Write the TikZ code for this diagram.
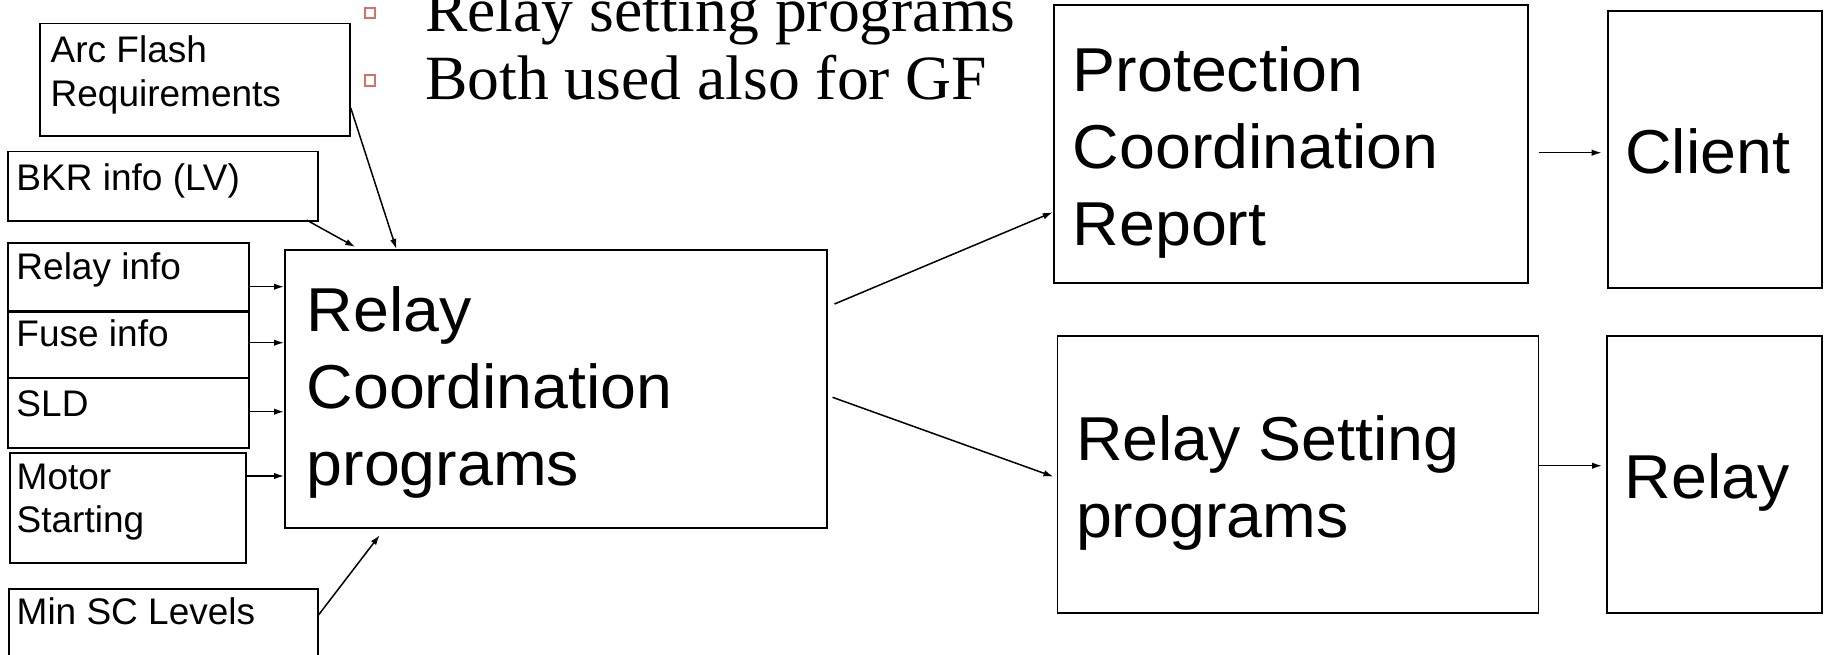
\documentclass[tikz,border=0pt]{standalone}
\usepackage{fontspec}
\setmainfont{Liberation Sans}
\newfontfamily\bigsans[FakeStretch=1.04]{Liberation Sans}
\newfontfamily\bulletserif[FakeStretch=1.01]{Liberation Serif}
\usetikzlibrary{arrows.meta,calc}
\definecolor{bulletred}{RGB}{214,112,104}
% #1 font size, #2 baseline skip, #3 width, #4 height, #5 left pad, #6 first baseline, #7 text
\newcommand\boxtxt[7]{\parbox[c][#4pt][t]{#3pt}{\fontsize{#1}{#2}\selectfont\raggedright\leftskip=#5pt\relax\rule{0pt}{#6pt}#7\par}}
\begin{document}
\begin{tikzpicture}[x=1pt,y=-1pt,
  boxn/.style={draw, line width=1.8pt, inner sep=0pt, anchor=north west},
  arr/.style={line width=1.5pt, -{Latex[length=10pt,width=6.5pt]}},
  bulletsq/.style={draw=bulletred, line width=1.8pt, minimum size=10.5pt, inner sep=0pt},
  serifline/.style={anchor=base west, inner sep=0pt, font={\bulletserif\fontsize{63}{67}\selectfont}}]
\clip (0,0) rectangle (1825,655);

% bullet text
\node[bulletsq] (b1) at (370,13) {};
\node[bulletsq] (b2) at (370,80.5) {};
\node[serifline] (t1) at (425,32) {Relay setting programs};
\node[serifline] (t2) at (425,99.3) {Both used also for GF};

% input boxes
\node[boxn] (arc) at (39.3,22.7) {\boxtxt{37}{43.5}{309.7}{112.3}{10.5}{39}{Arc Flash\\Requirements}};
\node[boxn] (bkr) at (7.3,150.7) {\boxtxt{37}{43.5}{309.4}{69.3}{8.3}{39.3}{BKR info (LV)}};
\node[boxn] (ri) at (7.3,241.7) {\boxtxt{37}{43.5}{240.4}{68.3}{8.3}{36.6}{Relay info}};
\node[boxn] (fuse) at (7.3,310.7) {\boxtxt{37}{43.5}{240.4}{66.6}{8.3}{35.3}{Fuse info}};
\node[boxn] (sld) at (7.3,377.3) {\boxtxt{37}{43.5}{240.4}{69.4}{8.3}{38.7}{SLD}};
\node[boxn] (motor) at (9.3,452.3) {\boxtxt{37}{43.4}{235.7}{109.4}{6.5}{36}{Motor\\Starting}};
\node[boxn] (minsc) at (8.3,588.3) {\boxtxt{37}{43.5}{308.4}{100}{7.5}{35}{Min SC Levels}};

% main boxes
\node[boxn] (rc) at (284,249) {\boxtxt{62}{77}{542}{277.7}{21.8}{82}{\bigsans Relay\\Coordination\\programs}};
\node[boxn] (pcr) at (1052.7,4) {\boxtxt{62}{77}{474.6}{277.7}{19.2}{86.7}{\bigsans Protection\\Coordination\\Report}};
\node[boxn] (client) at (1607.3,10.5) {\boxtxt{62}{77}{213.4}{276.2}{17}{162}{\bigsans Client}};
\node[boxn] (rsp) at (1056.5,335) {\boxtxt{62}{77}{481}{277.3}{18.6}{125}{\bigsans Relay Setting\\programs}};
\node[boxn] (relay) at (1606,335) {\boxtxt{62}{77}{215}{277}{18}{163}{\bigsans Relay}};

% connectors
\draw[arr] ($(arc.north east)!0.748!(arc.south east)$) -- ($(rc.north west)!0.2066!(rc.north east)$);
\draw[arr] ($(bkr.south west)!0.962!(bkr.south east)+(0,-1.7)$) -- ($(rc.north west)!0.131!(rc.north east)+(0,-2)$);
\draw[arr] (ri.east |- 0,286.7) -- (rc.west |- 0,286.7);
\draw[arr] (fuse.east |- 0,342.7) -- (rc.west |- 0,342.7);
\draw[arr] (sld.east |- 0,411.7) -- (rc.west |- 0,411.7);
\draw[arr] (motor.east |- 0,476) -- (rc.west |- 0,476);
\draw[arr] (minsc.north east |- 0,615) -- ($(rc.south west)!0.176!(rc.south east)+(0,6.6)$);
\draw[arr] ($(rc.east |- 0,304)+(6.7,0)$) -- (pcr.west |- 0,212.3);
\draw[arr] ($(rc.east |- 0,397.3)+(4.7,0)$) -- ($(rsp.west |- 0,476.7)+(-3,0)$);
\draw[arr] ($(pcr.east |- 0,152.7)+(9.4,0)$) -- ($(client.west |- 0,152.7)+(-5.6,0)$);
\draw[arr] (rsp.east |- 0,465.7) -- ($(relay.west |- 0,465.7)+(-4,0)$);
\end{tikzpicture}
\end{document}
